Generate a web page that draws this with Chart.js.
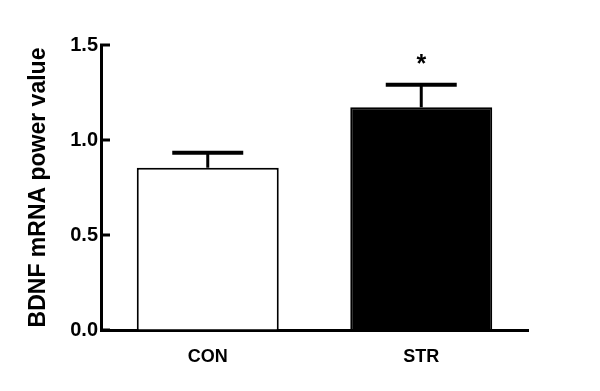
<!DOCTYPE html>
<html>
<head>
<meta charset="utf-8">
<script src="https://cdn.jsdelivr.net/npm/chart.js@4.4.0/dist/chart.umd.min.js"></script>
<style>
  body { margin: 0; background: #fff; }
  #wrap { width: 600px; height: 391px; }
</style>
</head>
<body>
<div id="wrap"><canvas id="chart" width="600" height="391"></canvas></div>
<script>
// values
const groups = ['CON', 'STR']
const means = [0.854, 1.172]
const sems = [0.079, 0.119]
const sigMarks = ['', '*']
const fills = ['#ffffff', '#000000']
const yTicks = [0, 0.5, 1.0, 1.5]

const FONT = "'Liberation Sans', Arial, sans-serif"

// error bars (upper half only) + significance star
const errorBars = {
  id: 'errorBars',
  afterDatasetsDraw(chart) {
    const ctx = chart.ctx
    const y = chart.scales.y
    const meta = chart.getDatasetMeta(0)
    ctx.save()
    ctx.strokeStyle = '#000'
    ctx.fillStyle = '#000'
    meta.data.forEach(function (bar, i) {
      const top = y.getPixelForValue(means[i] + sems[i])
      const half = bar.width / 4
      ctx.lineWidth = 3
      ctx.beginPath()
      ctx.moveTo(bar.x, bar.y)
      ctx.lineTo(bar.x, top)
      ctx.stroke()
      ctx.lineWidth = 4
      ctx.beginPath()
      ctx.moveTo(bar.x - half, top)
      ctx.lineTo(bar.x + half, top)
      ctx.stroke()
      if (sigMarks[i]) {
        ctx.font = 'bold 25px ' + FONT
        ctx.textAlign = 'center'
        ctx.textBaseline = 'alphabetic'
        ctx.fillText(sigMarks[i], bar.x, top - 13)
      }
    })
    ctx.restore()
  }
}

// y ticks point inward in the original
const innerTicks = {
  id: 'innerTicks',
  afterDraw(chart) {
    const ctx = chart.ctx
    const y = chart.scales.y
    const left = chart.chartArea.left
    ctx.save()
    ctx.strokeStyle = '#000'
    ctx.lineWidth = 3
    yTicks.forEach(function (v) {
      const py = y.getPixelForValue(v)
      ctx.beginPath()
      ctx.moveTo(left - 1, py)
      ctx.lineTo(left + 9, py)
      ctx.stroke()
    })
    ctx.restore()
  }
}

new Chart(document.getElementById('chart'), {
  type: 'bar',
  data: {
    labels: groups,
    datasets: [{
      data: means,
      backgroundColor: fills,
      borderColor: '#000',
      borderWidth: 2,
      borderSkipped: 'bottom',
      barPercentage: 0.665,
      categoryPercentage: 1
    }]
  },
  options: {
    responsive: false,
    animation: false,
    layout: { padding: { top: 45, right: 72, left: 0, bottom: 0 } },
    plugins: { legend: { display: false }, tooltip: { enabled: false } },
    scales: {
      x: {
        grid: { display: true, drawOnChartArea: false, drawTicks: false },
        border: { display: true, color: '#000', width: 3 },
        ticks: { color: '#000', padding: 16, font: { family: FONT, size: 18, weight: 'bold' } },
        afterFit(scale) { scale.height = 61 }
      },
      y: {
        min: 0,
        max: 1.5,
        grid: { display: true, drawOnChartArea: false, drawTicks: false },
        border: { display: true, color: '#000', width: 3 },
        afterBuildTicks(scale) { scale.ticks = yTicks.map(v => ({ value: v })) },
        ticks: {
          color: '#000',
          padding: 3,
          font: { family: FONT, size: 20, weight: 'bold' },
          callback: v => Number(v).toFixed(1)
        },
        title: {
          display: true,
          text: 'BDNF mRNA power value',
          color: '#000',
          font: { family: FONT, size: 23, weight: 'bold' },
          padding: { top: 25, bottom: 0 }
        },
        afterFit(scale) { scale.width = 101 }
      }
    }
  },
  plugins: [errorBars, innerTicks]
})
</script>
</body>
</html>
